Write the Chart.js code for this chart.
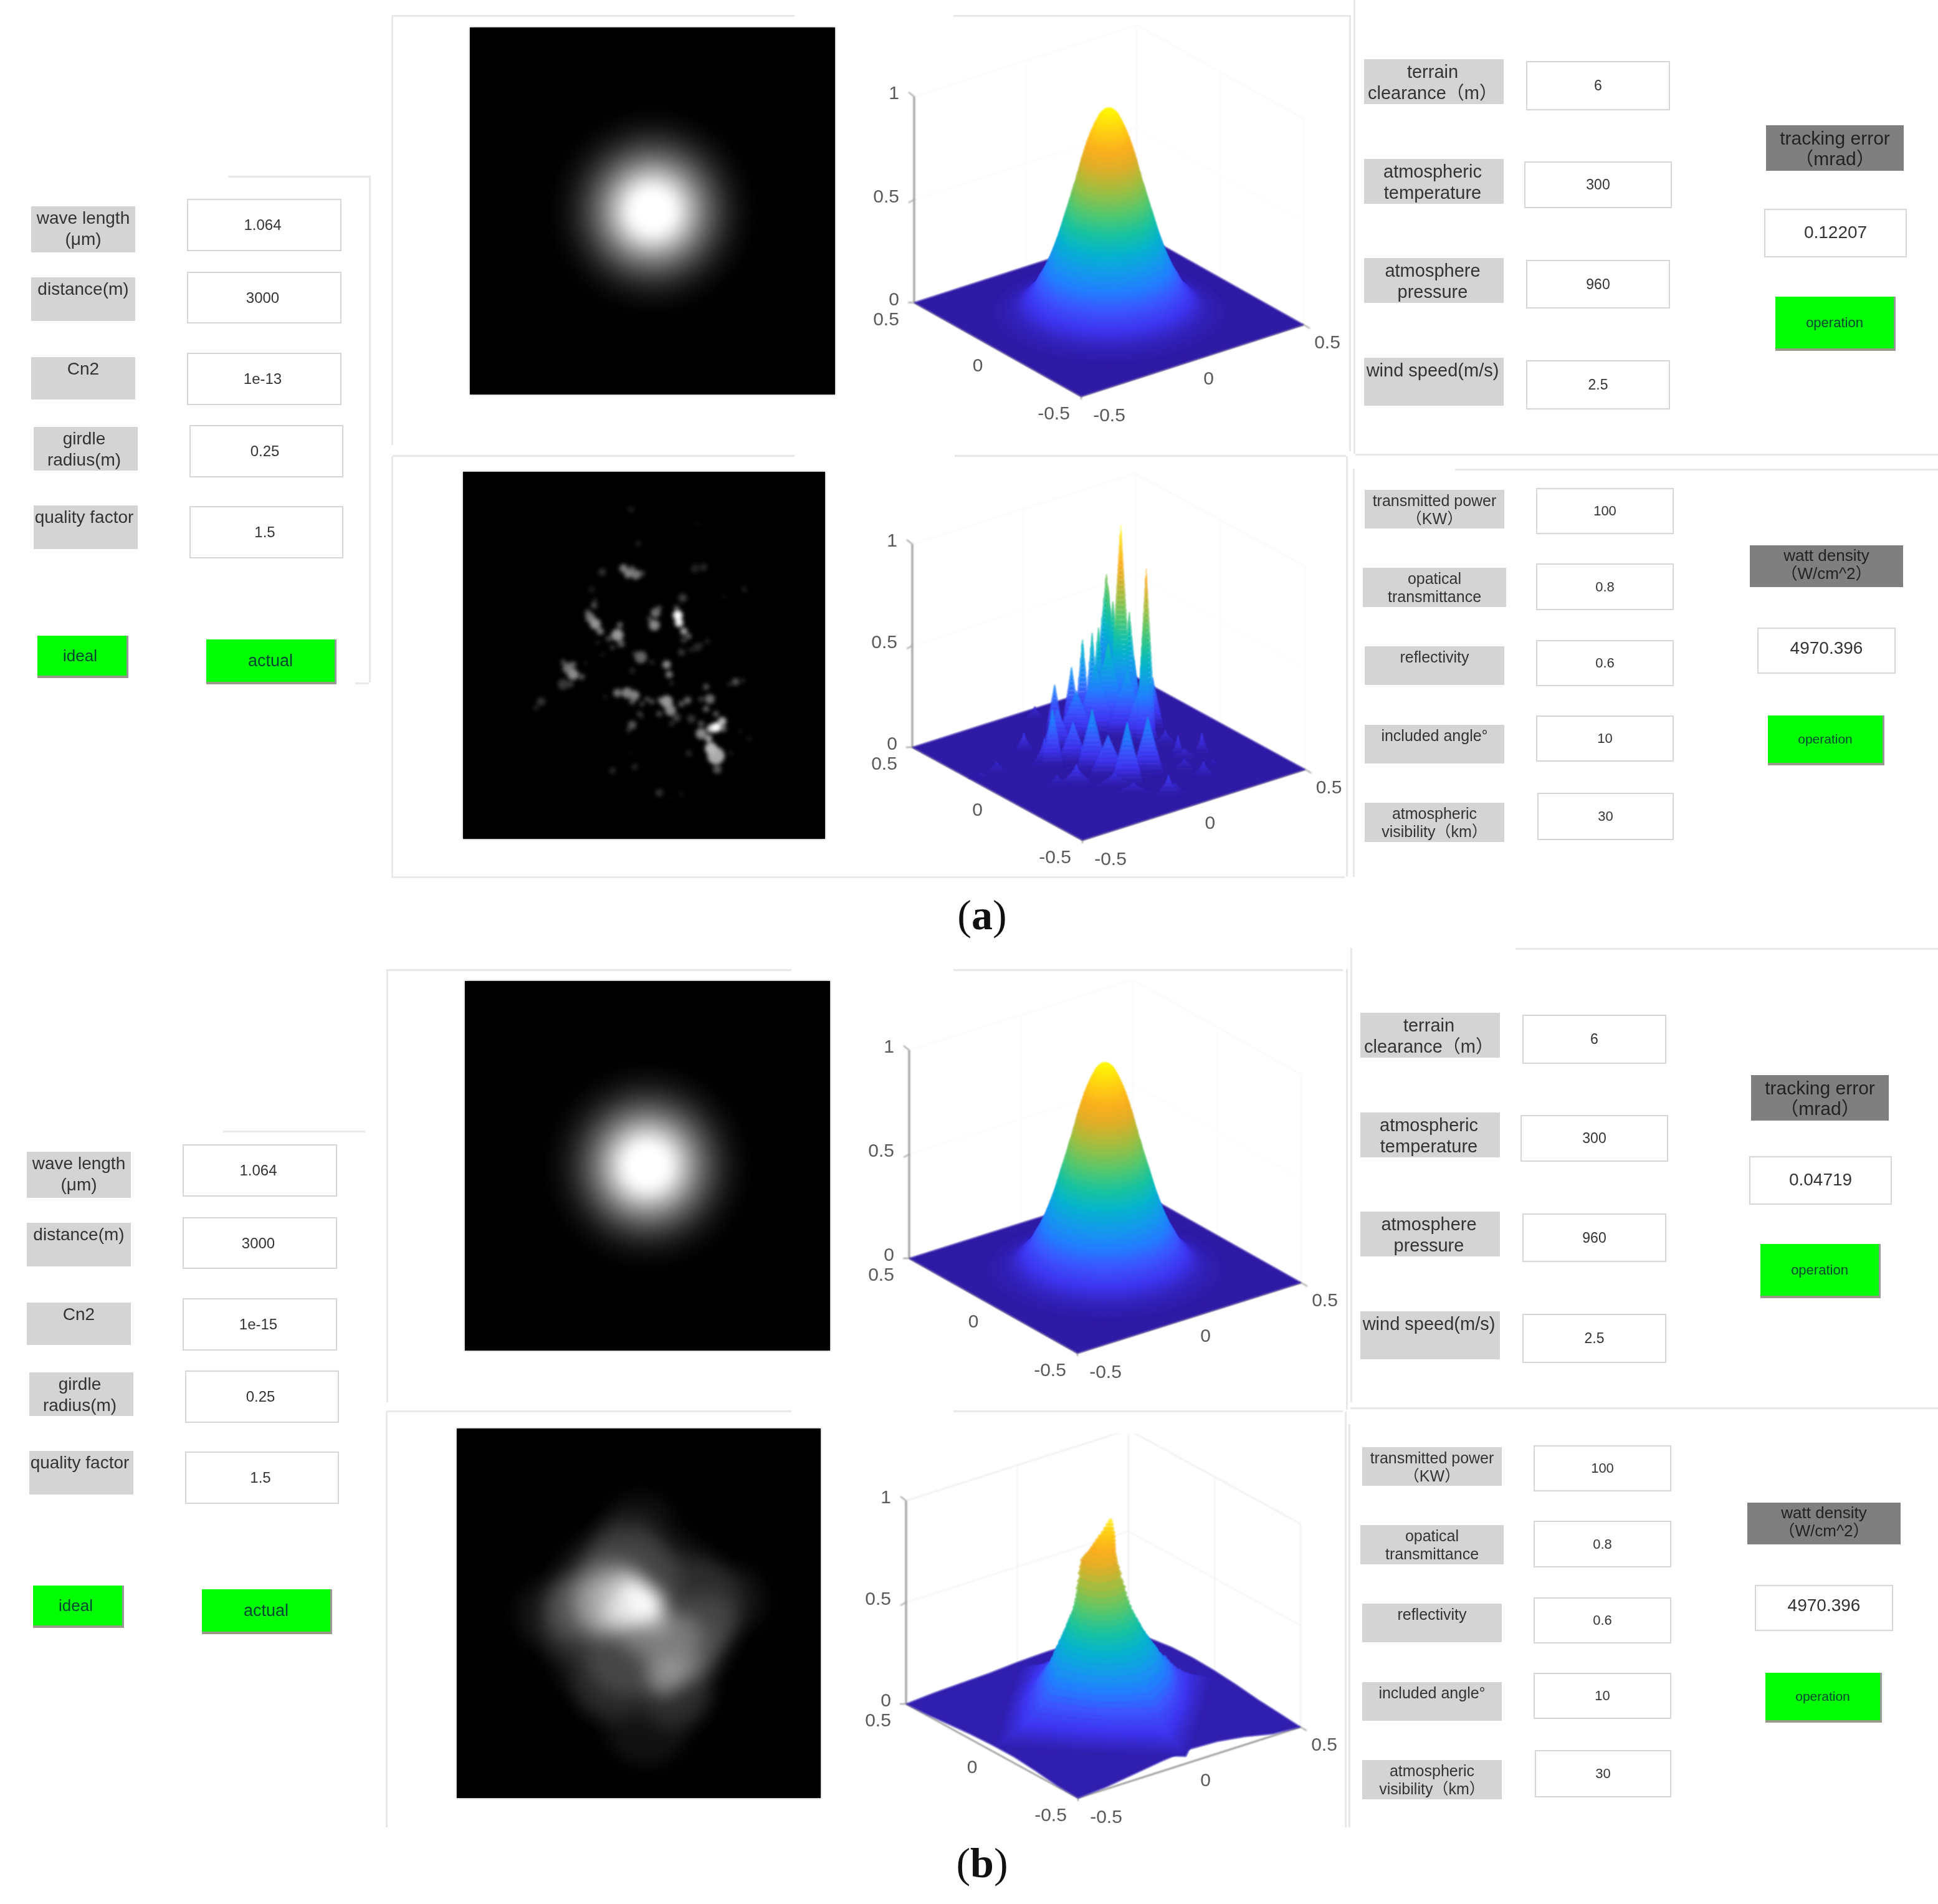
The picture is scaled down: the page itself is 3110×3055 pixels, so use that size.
<!DOCTYPE html>
<html><head><meta charset="utf-8">
<script src="https://cdn.jsdelivr.net/npm/chart.js@4/dist/chart.umd.min.js"></script>
<style>
html,body{margin:0;padding:0;background:#fff;width:3110px;height:3055px;overflow:hidden}
#ui{position:absolute;left:0;top:0;width:3110px;height:3055px;filter:blur(.7px);font-family:"Liberation Sans","Noto Sans CJK SC",sans-serif}
.w{position:absolute;box-sizing:border-box;text-align:center;white-space:nowrap}
.lab{background:#d4d4d4;color:#333}
.dark{background:#7f7f7f;color:#222}
.inp{background:#fff;border:2px solid #d6d6da;color:#333;display:flex;align-items:center;justify-content:center}
.btn{background:#00ff00;color:#043;border-right:3px solid #999;border-bottom:4px solid #998;display:flex;align-items:center;justify-content:center}
.ln{position:absolute;background:#e8e8e8}
canvas{position:absolute}
.blk{position:absolute;background:#000;box-shadow:0 0 3px #888}
.cap{position:absolute;font-family:"Liberation Serif",serif;font-size:68px;color:#111;transform:translate(-50%,-50%)}
</style></head><body>
<div id="ui"></div>
<script>
// ---------- text content ----------
const leftLabels=["wave length<br>(μm)","distance(m)","Cn2","girdle<br>radius(m)","quality factor"];
const leftValuesA=["1.064","3000","1e-13","0.25","1.5"];
const leftValuesB=["1.064","3000","1e-15","0.25","1.5"];
const modeButtons=["ideal","actual"];
const upperLabels=["terrain<br>clearance（m）","atmospheric<br>temperature","atmosphere<br>pressure","wind speed(m/s)"];
const upperValues=["6","300","960","2.5"];
const lowerLabels=["transmitted power<br>（KW）","opatical<br>transmittance","reflectivity","included angle°","atmospheric<br>visibility（km）"];
const lowerValues=["100","0.8","0.6","10","30"];
const trackingTitle="tracking error<br>（mrad）";
const trackingA="0.12207", trackingB="0.04719";
const wattTitle="watt density<br>（W/cm^2）";
const wattValue="4970.396";
const runLabel="operation";
const zTicks=[0,0.5,1];
const xyTicks=[-0.5,0,0.5];

// ---------- ideal beam: radial read-off (radius in image units, gray level) ----------
const beamRadius=[.30,.28,.265,.25,.235,.22,.205,.19,.175,.16,.145,.13,.115,.10,.085,.07,.055,.045];
const beamGray=[1,4,8,14,22,33,46,62,80,100,122,147,172,198,222,242,252,255];
// ideal surface: height / ring radius read from the silhouette
const idealZ=[.004,.006,.008,.011,.015,.02,.025,.03,.036,.043,.05,.058,.066,.075,.085,.095,.105,.118,.13,.143,.155,.17,.185,.2,.215,.23,.247,.265,.282,.3,.32,.34,.362,.384,.4,.42,.44,.46,.483,.506,.528,.55,.57,.59,.608,.625,.647,.67,.69,.71,.728,.747,.768,.79,.81,.83,.85,.87,.885,.9,.915,.93,.945,.96,.97,.98,.99];
const idealR=[.43,.42,.41,.39,.38,.365,.355,.345,.335,.327,.32,.312,.305,.298,.29,.283,.277,.27,.265,.26,.255,.249,.242,.235,.23,.225,.219,.213,.208,.203,.197,.192,.186,.18,.176,.172,.167,.163,.158,.152,.147,.142,.137,.133,.129,.125,.12,.116,.111,.107,.103,.1,.095,.09,.085,.08,.075,.069,.064,.059,.054,.049,.043,.037,.031,.025,.016];

// ---------- actual (a) speckle: x, y, radius, gray in picture coordinates ----------
const speckleA=[[715,170,10,30],[745,310,8,40],[598,425,12,50],[685,410,14,120],[705,430,14,130],[735,435,16,120],[760,430,10,60],[985,230,6,20],[975,410,14,35],[1010,405,12,40],[1175,495,8,35],[1090,525,6,20],[555,495,10,30],[565,560,10,85],[550,610,16,120],[570,635,18,150],[590,665,12,120],[580,710,6,40],[670,640,10,100],[660,680,20,150],[675,715,12,90],[625,695,10,70],[600,760,6,35],[815,590,16,110],[810,640,18,135],[790,615,8,80],[830,570,8,80],[905,600,16,255],[910,630,14,240],[930,665,12,160],[950,685,8,120],[925,530,14,60],[900,570,8,100],[930,700,10,60],[985,730,14,40],[1025,705,8,40],[920,750,12,50],[755,770,20,100],[730,755,8,50],[800,790,8,40],[720,825,10,35],[860,800,14,135],[870,840,12,120],[880,875,6,60],[460,815,18,115],[480,840,18,140],[515,850,10,85],[530,795,5,40],[440,880,18,55],[350,950,14,50],[330,975,8,40],[660,915,14,115],[700,915,18,130],[730,925,16,130],[610,930,6,40],[720,950,10,90],[800,950,8,90],[860,950,20,150],[875,985,18,135],[835,945,10,110],[920,960,10,90],[945,945,12,100],[900,1015,14,60],[960,1020,14,50],[1020,890,10,85],[1035,940,16,110],[1020,980,10,100],[1140,870,12,85],[1115,880,6,60],[1170,865,6,60],[720,1045,14,85],[705,1065,8,50],[760,1010,6,50],[1060,1055,16,255],[1085,1030,14,180],[1000,1080,18,135],[1030,1100,12,160],[1040,1140,20,185],[1060,1170,28,170],[1065,1225,14,85],[950,1160,10,40],[1160,1070,6,25],[1195,1100,8,25],[1120,1160,6,40],[715,1160,5,25],[730,1215,10,40],[640,1230,10,45],[830,1320,12,50],[920,1325,6,30],[880,1340,4,20],[760,960,8,70],[780,940,8,80],[750,1000,8,70],[1000,940,8,70],[1060,1000,10,85],[1090,1060,10,115],[1040,1060,14,190],[1000,1040,10,85],[880,1040,8,50],[830,1000,10,70],[960,740,8,40],[1000,720,8,35],[540,590,10,95],[640,730,8,60],[570,540,6,60],[700,440,8,110],[720,410,8,100],[480,800,10,100],[440,790,8,80],[470,880,10,60]];
// ---------- actual (b) blurred spot: x, y, radius, gray in picture coordinates ----------
const spotB=[[740,780,400,16],[750,420,150,16],[780,1200,170,18],[390,760,140,20],[1130,700,130,18],[720,760,320,38],[700,520,160,42],[980,720,190,44],[640,1020,170,40],[890,1070,150,44],[500,800,150,46],[700,650,220,68],[1010,800,130,68],[700,920,170,70],[930,900,140,84],[510,730,140,82],[640,700,165,112],[880,950,110,125],[900,850,95,118],[850,1020,70,130],[760,830,95,122],[600,720,120,150],[680,700,120,178],[880,980,50,150],[820,790,60,150],[650,760,60,205],[720,720,95,225],[770,720,78,240],[730,660,38,255],[795,735,38,255],[750,690,38,255]];

// ---------- actual (a) surface peaks: apex x, apex y, half width, height ----------
const peaksA=[[840,150,40,1.0],[795,335,40,.62],[920,315,30,.85],[867,480,35,.55],[750,560,25,.45],[720,585,25,.42],[685,690,30,.3],[632,757,30,.25],[770,540,30,.5],[815,440,40,.55],[880,650,35,.35],[940,730,35,.25],[535,940,35,.09],[570,840,35,.06],[600,960,40,.13],[625,850,35,.28],[690,900,50,.2],[750,850,50,.3],[800,950,60,.2],[860,900,50,.3],[925,880,50,.28],[1020,950,25,.1],[1095,940,25,.1],[1100,1050,40,.07],[990,1100,40,.1],[1010,1130,40,.05],[450,1050,40,.05],[400,1090,40,.03],[700,1060,60,.1],[820,1090,70,.07],[880,1130,70,.05],[640,1100,40,.05],[980,930,40,.07],[1040,1040,50,.05],[1130,1040,30,.03],[800,600,70,.45],[860,700,70,.33],[760,680,70,.35],[700,780,70,.25],[640,850,55,.2],[900,760,60,.28],[830,500,45,.5],[800,380,35,.6],[915,500,28,.62],[790,1030,130,.06],[880,1060,110,.05],[700,1010,110,.06],[1040,1000,60,.05]];

// ---------- actual (b) surface: level, ring radius, ring centre ----------
const bLevelZ=[.02,.03,.04,.05,.06,.07,.08,.095,.11,.13,.15,.175,.2,.225,.25,.27,.3,.325,.35,.375,.4,.425,.45,.475,.5,.525,.55,.575,.6,.63,.66,.7,.73,.76,.78,.8,.82,.84,.86,.88,.9,.92,.94,.955,.965];
const bLevelR=[.48,.46,.44,.42,.40,.385,.37,.35,.335,.315,.30,.28,.262,.24,.225,.215,.198,.184,.17,.157,.145,.136,.128,.119,.11,.103,.097,.092,.088,.085,.08,.075,.07,.065,.058,.05,.045,.04,.035,.03,.024,.018,.013,.008,.004];
const bCentreZ=[0,.2,.45,.76,.9,.965];
const bCentreX=[0,.012,0,-.012,.014,.021];
const bCentreY=[0,-.009,0,.009,-.01,-.016];
const bEdge=[.02,-.015,.03,-.02,.01,.035,-.03,.015,-.01,.03,-.025,.02,-.02,.025,.01,-.035,.03,-.015,.02,-.03,.015,.025,-.02,.01];
const bEdgeLeftBack=[0,.01,.015,.02,.03,.035,.035,.02,.01];
const bEdgeBackRight=[.01,.03,.045,.05,.045,.035,.02,.01,0];
const bEdgeRightFront=[0,.01,.04,.06,.065,.05,.03,.01,0];
const bEdgeFrontLeft=[0,.005,.02,.03,.03,.025,.015,.005,0];

// ---------- colour map (height -> rgb) ----------
const mapZ=[0,.03,.08,.15,.22,.3,.38,.46,.55,.65,.75,.82,.9,1];
const mapC=[[46,26,165],[52,36,190],[62,54,240],[60,85,255],[35,125,255],[20,155,235],[5,180,205],[25,195,160],[85,200,110],[160,190,65],[225,175,40],[250,175,30],[255,205,20],[255,250,5]];
function col(z){z=Math.max(0,Math.min(1,z));let i=0;while(i<mapZ.length-2&&z>mapZ[i+1])i++;const t=(z-mapZ[i])/(mapZ[i+1]-mapZ[i]);const c=mapC[i].map((v,k)=>Math.round(v+(mapC[i+1][k]-v)*t));return `rgb(${c})`;}

Chart.defaults.animation=false;
Chart.defaults.font.family='"Liberation Sans",sans-serif';

// ---------- UI ----------
const ui=document.getElementById('ui');
function box(cls,x0,y0,x1,y1,html,fs,pad,lh){const d=document.createElement('div');d.className='w '+cls;d.style.cssText=`left:${x0}px;top:${y0}px;width:${x1-x0}px;height:${y1-y0}px;font-size:${fs}px;`+(pad!=null?`padding-top:${pad}px;line-height:${lh}px;`:'');d.innerHTML=html;ui.appendChild(d);return d;}
function h(y,x0,x1){const d=document.createElement('div');d.className='ln';d.style.cssText=`left:${x0}px;top:${y}px;width:${x1-x0}px;height:3px`;ui.appendChild(d);}
function v(x,y0,y1){const d=document.createElement('div');d.className='ln';d.style.cssText=`left:${x}px;top:${y0}px;width:3px;height:${y1-y0}px`;ui.appendChild(d);}
function leftGroup(vals,dx,dy,bdy){
  const L=[[50,331,217,405],[50,445,217,515],[50,573,217,641],[54,685,221,755],[54,811,221,881]];
  const I=[[300,319,548,403],[300,436,548,519],[300,566,548,650],[304,682,551,766],[304,812,551,896]];
  leftLabels.forEach((t,i)=>box('lab',L[i][0]+dx,L[i][1]+dy,L[i][2]+dx,L[i][3]+dy,t,28,2,34).style.paddingRight=(i>2?'5px':'0'));
  vals.forEach((t,i)=>{box('inp',I[i][0]+dx,I[i][1]+dy,I[i][2]+dx,I[i][3]+dy,t,24).style.paddingRight='5px';});
  box('btn',60+dx,1020+bdy,206+dx,1088+bdy,modeButtons[0],26).style.paddingRight='6px';
  box('btn',331+dx,1026+bdy,540+dx,1098+bdy,modeButtons[1],27);
}
function upperGroup(dx,dy){
  const L=[[2189,95,2413,167],[2189,255,2413,327],[2189,414,2413,486],[2189,574,2413,651]];
  const I=[[2449,98,2680,177],[2446,259,2683,334],[2449,417,2680,495],[2449,578,2680,657]];
  upperLabels.forEach((t,i)=>box('lab',L[i][0]+dx,L[i][1]+dy,L[i][2]+dx,L[i][3]+dy,t,29,3,34).style.paddingRight='4px');
  upperValues.forEach((t,i)=>box('inp',I[i][0]+dx,I[i][1]+dy,I[i][2]+dx,I[i][3]+dy,t,23));
}
function lowerGroup(dx,dy){
  const L=[[2190,786,2414,848],[2187,911,2417,974],[2190,1037,2414,1099],[2190,1163,2414,1225],[2190,1288,2414,1351]];
  const I=[[2465,783,2686,857],[2465,904,2686,979],[2465,1027,2686,1101],[2465,1148,2686,1222],[2467,1272,2686,1348]];
  lowerLabels.forEach((t,i)=>box('lab',L[i][0]+dx,L[i][1]+dy,L[i][2]+dx,L[i][3]+dy,t,25,3,29));
  lowerValues.forEach((t,i)=>box('inp',I[i][0]+dx,I[i][1]+dy,I[i][2]+dx,I[i][3]+dy,t,22));
}
function trackGroup(val,dx,dy,dy2){
  box('dark',2834+dx,201+dy,3055+dx,274+dy,trackingTitle,30,4,33);
  box('inp',2831+dx,335+dy2,3060+dx,413+dy2,val,28).style.paddingBottom='3px';
  box('btn',2849+dx,476+dy2,3042+dx,563+dy2,runLabel,22);
}
function wattGroup(dx,dy){
  box('dark',2808+dx,875+dy,3054+dx,942+dy,wattTitle,26,2,29);
  box('inp',2820+dx,1007+dy,3042+dx,1081+dy,wattValue,28).style.paddingBottom='8px';
  box('btn',2837+dx,1148+dy,3024+dx,1228+dy,runLabel,21);
}
leftGroup(leftValuesA,0,0,0); leftGroup(leftValuesB,-7,1517,1524);
upperGroup(0,0); upperGroup(-6,1530);
lowerGroup(0,0); lowerGroup(-4,1536);
trackGroup(trackingA,0,0,0); trackGroup(trackingB,-24,1524,1520);
wattGroup(0,0); wattGroup(-4,1536);
// frame lines
h(24,630,1275);h(24,1530,2165);v(628,24,714);v(2165,24,724);
h(730,630,1275);h(730,1532,2160);v(628,732,1406);h(1406,628,2158);v(2160,732,1406);
v(2172,0,728);h(728,2175,3110);h(752,2335,3110);v(2171,752,1407);
h(282,366,592);v(592,282,1095);h(1095,570,592);
h(1555,620,1270);h(1555,1530,2155);v(620,1555,2250);v(2160,1555,2262);
h(2263,620,1270);h(2263,1530,2155);v(619,2265,2932);v(2158,2265,2932);
h(1521,2432,3110);v(2167,1521,2250);h(2258,2167,3110);v(2164,2285,2932);h(1814,358,586);
[['a',1576,1468],['b',1576,2989]].forEach(([t,x,y])=>{const d=document.createElement('div');d.className='cap';d.style.left=x+'px';d.style.top=y+'px';d.innerHTML=`(<b>${t}</b>)`;document.body.appendChild(d);});

// ---------- plugins ----------
const soft={id:'soft',
  beforeDatasetsDraw(c,a,o){if(o.blur)c.ctx.filter=`blur(${o.blur}px)`;},
  afterDatasetsDraw(c){c.ctx.filter='none';}};
const tickText={id:'tickText',afterDraw(c,a,o){
  const ctx=c.ctx,X=c.scales.x,Y=c.scales.y;if(!o.items)return;
  ctx.save();ctx.filter='blur(.7px)';ctx.font='30px "Liberation Sans"';ctx.fillStyle='#5a5a5a';ctx.textBaseline='middle';
  o.items.forEach(t=>{ctx.textAlign=t.al;ctx.fillText(t.s,X.getPixelForValue(t.x)+t.dx,Y.getPixelForValue(t.y)+t.dy);});
  ctx.restore();}};
function newCanvas(x0,y0,x1,y1){const c=document.createElement('canvas');c.width=x1-x0;c.height=y1-y0;c.style.cssText=`left:${x0}px;top:${y0}px;width:${x1-x0}px;height:${y1-y0}px;`;document.body.appendChild(c);return c;}
function scales(xmin,xmax,ymin,ymax){return{x:{type:'linear',display:false,min:xmin,max:xmax},y:{type:'linear',display:false,reverse:true,min:ymin,max:ymax}};}
const baseOpts=(sc,blur,items)=>({responsive:false,devicePixelRatio:1,events:[],layout:{padding:0,autoPadding:false},scales:sc,plugins:{legend:{display:false},tooltip:{enabled:false},soft:{blur},tickText:{items}}});

// ---------- image panels ----------
function heat(b,rows,xr,yr,blur,rScale){
  const back=document.createElement('div');back.className='blk';back.style.cssText=`left:${b[0]}px;top:${b[1]}px;width:${b[2]-b[0]}px;height:${b[3]-b[1]}px`;document.body.appendChild(back);
  const c=newCanvas(b[0],b[1],b[2],b[3]);c.style.filter=`blur(${blur}px)`;
  const pxPerUnit=(b[2]-b[0])/(xr[1]-xr[0])*rScale;
  const data=rows.slice().sort((p,q)=>p[3]-q[3]).map(r=>({x:r[0],y:r[1],r:r[2],g:r[3]}));
  new Chart(c,{type:'scatter',plugins:[soft],data:{datasets:[{data,pointRadius:k=>k.raw.r*pxPerUnit,pointBorderWidth:0,pointBackgroundColor:k=>`rgb(${k.raw.g},${k.raw.g},${k.raw.g})`}]},options:baseOpts(scales(xr[0],xr[1],yr[0],yr[1]),0)});
}
const beamRows=beamRadius.map((r,i)=>[0,0,r,beamGray[i]]);
heat([754,44,1340,633],beamRows,[-.5,.5],[-.5,.5],5,1);
heat([743,757,1324,1346],speckleA,[33,1503],[18,1507],3,1.25);
heat([746,1574,1332,2167],beamRows,[-.5,.5],[-.5,.5],5,1);
heat([733,2292,1317,2885],spotB,[8,1485],[5,1505],14,1);

// ---------- 3D panels ----------
function view(l,f,r,ztop){return (x,y,z)=>({x:f[0]+(x+.5)*(r[0]-f[0])+(y+.5)*(l[0]-f[0]),y:f[1]+(x+.5)*(r[1]-f[1])+(y+.5)*(l[1]-f[1])-z*(l[1]-ztop)});}
const poly=(pts,color)=>({data:pts.concat([pts[0]]),showLine:true,fill:'shape',backgroundColor:color,borderColor:color,borderWidth:1,pointRadius:0,tension:0});
const line=(pts,color,w)=>({data:pts,showLine:true,fill:false,borderColor:color,borderWidth:w,pointRadius:0,tension:0});
function frame(P,gridCol){
  const out=[],T=(x,y,z)=>P(x,y,z);
  out.push(line([T(-.5,.5,1),T(.5,.5,1),T(.5,-.5,1)],gridCol,1.5));
  out.push(line([T(.5,.5,0),T(.5,.5,1)],gridCol,1.5));
  out.push(line([T(.5,-.5,0),T(.5,-.5,1)],gridCol,1.5));
  out.push(line([T(-.5,.5,.5),T(.5,.5,.5),T(.5,-.5,.5)],gridCol,1));
  out.push(line([T(0,.5,0),T(0,.5,1)],gridCol,1));
  out.push(line([T(.5,0,0),T(.5,0,1)],gridCol,1));
  out.push(line([T(-.5,.5,0),T(-.5,.5,1)],'#9a9a9a',3));
  out.push(line([T(-.5,.5,1),{x:T(-.5,.5,1).x-9,y:T(-.5,.5,1).y-7}],'#9a9a9a',2));
  out.push(line([T(-.5,.5,.5),{x:T(-.5,.5,.5).x-9,y:T(-.5,.5,.5).y+5}],'#9a9a9a',2));
  out.push(line([T(-.5,.5,0),T(-.5,-.5,0),T(.5,-.5,0)],'#8f8f8f',2.5));
  out.push(line([T(-.5,.5,0),{x:T(-.5,.5,0).x-10,y:T(-.5,.5,0).y}],'#9a9a9a',2));
  out.push(line([T(.5,-.5,0),{x:T(.5,-.5,0).x+10,y:T(.5,-.5,0).y+6}],'#9a9a9a',2));
  out.push(line([T(-.5,-.5,0),{x:T(-.5,-.5,0).x,y:T(-.5,-.5,0).y+5}],'#9a9a9a',2));
  return out;
}
function tickItems(P){
  const out=[];
  zTicks.forEach(z=>{const p=P(-.5,.5,z);out.push({s:String(z),x:p.x,y:p.y,dx:-24,dy:-4,al:'right'});});
  const xo=[[45,32],[26,30],[38,30]],yo=[[-44,29],[-32,27],[-45,28]];
  xyTicks.forEach((t,i)=>{const p=P(t,-.5,0);out.push({s:String(t),x:p.x,y:p.y,dx:xo[i][0],dy:xo[i][1],al:'center'});
    const q=P(-.5,t,0);out.push({s:String(t),x:q.x,y:q.y,dx:yo[i][0],dy:yo[i][1],al:'center'});});
  return out;
}
function surf(b,P,marks,grid){
  const c=newCanvas(b[0],b[1],b[2],b[3]);
  const ds=frame(P,grid).concat(marks);
  ds.reverse();
  new Chart(c,{type:'scatter',plugins:[soft,tickText],data:{datasets:ds},options:baseOpts(scales(b[0],b[2],b[1],b[3]),1.3,tickItems(P))});
}
const floorOf=P=>poly([P(-.5,.5,0),P(.5,.5,0),P(.5,-.5,0),P(-.5,-.5,0)],col(0));
function rings(P){return idealZ.map((z,i)=>{const r=idealR[i],pts=[];for(let k=0;k<56;k++){const a=k/56*2*Math.PI;pts.push(P(r*Math.cos(a),r*Math.sin(a),z));}return poly(pts,col(z));});}

const PA=view([1467,485.5],[1735,636],[2092,521],155);
surf([1380,30,2170,700],PA,[floorOf(PA)].concat(rings(PA)),'#f7f7f7');
const PBI=view([1459,2019],[1729,2171],[2088,2058],1685);
surf([1380,1570,2170,2260],PBI,[floorOf(PBI)].concat(rings(PBI)),'#f7f7f7');

// actual (a)
const PAA=view([1464,1199],[1737,1348],[2094.5,1234.5],873);
function spikes(){
  const zs=2.376,out=[];
  const rows=peaksA.map(p=>({ax:1370+p[0]/1.96,ay:780+p[1]/zs,w:p[2]/1.96,z:p[3],fy:780+p[1]/zs+p[3]*326}));
  rows.sort((a,b)=>a.fy-b.fy);
  rows.forEach(s=>{
    const n=Math.ceil(s.z/.025)+1,e=s.z<.2?1.6:1.05;
    for(let i=0;i<n;i++){
      const t0=i/n,t1=(i+1)/n,y0=s.fy+(s.ay-s.fy)*t0,y1=s.fy+(s.ay-s.fy)*t1,w0=s.w*Math.pow(1-t0,e),w1=s.w*Math.pow(1-t1,e);
      out.push(poly([{x:s.ax-w0,y:y0},{x:s.ax+w0,y:y0},{x:s.ax+w1,y:y1},{x:s.ax-w1,y:y1}],col(s.z*(t0+t1)/2)));
    }
  });
  return out;
}
surf([1380,750,2170,1410],PAA,[floorOf(PAA)].concat(spikes()),'#f7f7f7');

// actual (b)
const PBA=view([1454,2734],[1730,2885],[2087,2771],2408);
function floorB(){
  const pts=[],n=bEdgeLeftBack.length-1;
  for(let i=0;i<n;i++)pts.push(PBA(-.5+i/n,.5,bEdgeLeftBack[i]));
  for(let i=0;i<n;i++)pts.push(PBA(.5,.5-i/n,bEdgeBackRight[i]));
  for(let i=0;i<n;i++)pts.push(PBA(.5-i/n,-.5,bEdgeRightFront[i]));
  for(let i=0;i<n;i++)pts.push(PBA(-.5,-.5+i/n,bEdgeFrontLeft[i]));
  return poly(pts,col(.012));
}
function centre(z,vals){let i=0;while(i<bCentreZ.length-2&&z>bCentreZ[i+1])i++;const t=(z-bCentreZ[i])/(bCentreZ[i+1]-bCentreZ[i]);return vals[i]+(vals[i+1]-vals[i])*t;}
function ringsB(){
  return bLevelZ.map((z,i)=>{
    const d=Math.max(0,1-z/.4),pts=[],r=bLevelR[i],cx=centre(z,bCentreX),cy=centre(z,bCentreY),amp=z>.5?1:(z>.25?.5:.2);
    for(let k=0;k<48;k++){const a=k/48*2*Math.PI,dia=1/(Math.abs(Math.cos(a))+Math.abs(Math.sin(a)));
      const rr=r*(1-d+d*dia)*(1+bEdge[(k+Math.floor(i/3))%24]*amp);
      pts.push(PBA(cx+rr*Math.cos(a),cy+rr*Math.sin(a),z));}
    return poly(pts,col(z));
  });
}
surf([1380,2300,2170,2950],PBA,[floorB()].concat(ringsB()),'#e8e8e8');
</script>
</body></html>
